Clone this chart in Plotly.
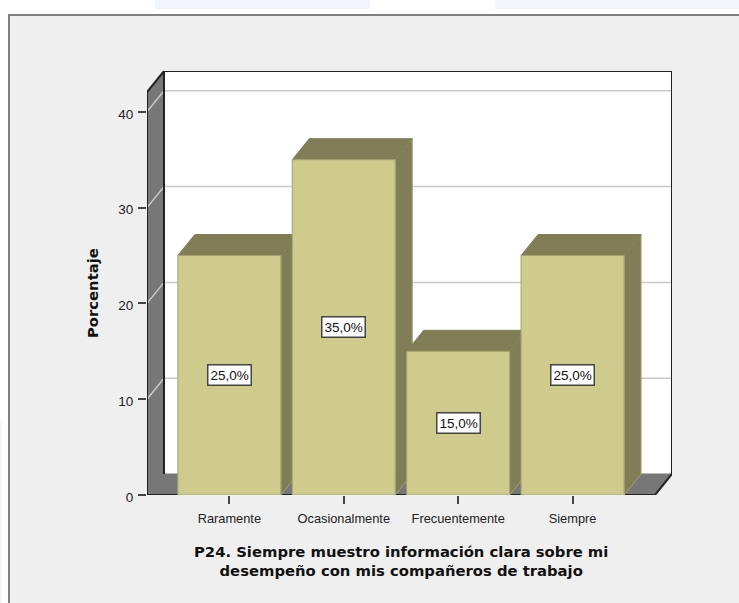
import plotly.graph_objects as go

# Survey results for item P24
categories = ["Raramente", "Ocasionalmente", "Frecuentemente", "Siempre"]
percentages = [25.0, 35.0, 15.0, 25.0]
value_labels = ["25,0%", "35,0%", "15,0%", "25,0%"]
y_ticks = [0, 10, 20, 30, 40]
x_title = "P24. Siempre muestro información clara sobre mi<br>desempeño con mis compañeros de trabajo"
y_title = "Porcentaje"

W, H = 739, 603
LEFT, RIGHT, TOP, BOTTOM = 147, 672, 71, 495   # plot area in pixels
CAT_PX = 114.4                                 # pixels per category
PCT_PX = 9.58                                  # pixels per percentage point

x_min = -0.72
x_max = x_min + (RIGHT - LEFT) / CAT_PX
y_max = (BOTTOM - TOP) / PCT_PX

# Oblique depth of the 3D box, in axis units
DX = 17 / CAT_PX
DY = 21 / PCT_PX
BAR_W = 103 / CAT_PX

FACE = "#cfcb8d"
SHADE = "#807d57"
EDGE = "#a5a274"
WALL = "#777777"
INK = "#111111"

front_right = x_max - DX


def poly(xs, ys, fill, line=None, width=1):
    """Closed filled polygon on the primary axes."""
    return go.Scatter(
        x=xs + xs[:1], y=ys + ys[:1], mode="lines", fill="toself", fillcolor=fill,
        line=dict(color=line or fill, width=width), hoverinfo="skip", showlegend=False,
    )


def segment(xs, ys, color, width):
    return go.Scatter(x=xs, y=ys, mode="lines", line=dict(color=color, width=width),
                      hoverinfo="skip", showlegend=False)


fig = go.Figure()

# Back wall, floor and side wall
fig.add_trace(poly([x_min + DX, x_max, x_max, x_min + DX], [DY, DY, y_max, y_max], "#ffffff"))
fig.add_trace(poly([x_min, x_min + DX, x_max, front_right], [0, DY, DY, 0], WALL))
fig.add_trace(poly([x_min, x_min + DX, x_min + DX, x_min],
                   [0, DY, y_max, y_max - DY], WALL))

# Gridlines run across the back wall and fold down the side wall
for tick in y_ticks[1:]:
    fig.add_trace(segment([x_min, x_min + DX, x_max],
                          [tick, tick + DY, tick + DY], "#c9c9c9", 1.5))

# Box outline
fig.add_trace(segment([x_min, x_min, x_min + DX, x_max, x_max, front_right],
                      [0, y_max - DY, y_max, y_max, DY, 0], "#222222", 2))
fig.add_trace(segment([x_min + DX, x_min + DX], [DY, y_max], "#222222", 2))
fig.add_trace(segment([x_min, front_right], [0, 0], "#222222", 2))

# Top and side faces of each bar
half = BAR_W / 2
for i, v in enumerate(percentages):
    fig.add_trace(poly([i + half, i + half + DX, i + half + DX, i + half],
                       [0, DY, v + DY, v], SHADE, EDGE))
    fig.add_trace(poly([i - half, i + half, i + half + DX, i - half + DX],
                       [v, v, v + DY, v + DY], SHADE, SHADE))

# Front faces sit on an overlaid copy of the axes so they cover neighbouring side faces
fig.add_trace(go.Bar(
    x=list(range(len(categories))), y=percentages, width=BAR_W,
    marker=dict(color=FACE, line=dict(color=EDGE, width=1)),
    xaxis="x2", yaxis="y2", showlegend=False, hoverinfo="skip",
))


def px_x(p):
    return (p - LEFT) / (RIGHT - LEFT)


def px_y(p):
    return (BOTTOM - p) / (BOTTOM - TOP)


def page_rect(x0, y0, x1, y1, fill, line=None, width=0):
    return dict(type="rect", xref="paper", yref="paper", layer="below",
                x0=px_x(x0), x1=px_x(x1), y0=px_y(y0), y1=px_y(y1),
                fillcolor=fill, line=dict(color=line or fill, width=width))


shapes = [
    page_rect(155, -2, 370, 9, "#f1f5fd"),
    page_rect(495, -2, 739, 9, "#f4f7fd"),
    page_rect(-2, 420, 2, 605, "#f1f5fd"),
    page_rect(9, 15, 745, 610, "#efefef", "#808080", 2),
]

annotations = [
    dict(x=i, y=v / 2, xref="x2", yref="y2", text=label, showarrow=False,
         font=dict(family="Liberation Sans", size=13.5, color=INK),
         bgcolor="#ffffff", bordercolor="#444444", borderwidth=1.5, borderpad=2)
    for i, (v, label) in enumerate(zip(percentages, value_labels))
]
annotations += [
    dict(x=px_x(401), y=px_y(561), xref="paper", yref="paper", showarrow=False,
         xanchor="center", yanchor="middle", align="center", text=x_title,
         font=dict(family="DejaVu Sans", size=14.8, color=INK, weight="bold")),
    dict(x=px_x(92), y=px_y(293), xref="paper", yref="paper", showarrow=False,
         xanchor="center", yanchor="middle", text=y_title, textangle=-90,
         font=dict(family="DejaVu Sans", size=14.8, color=INK, weight="bold")),
]

fig.update_layout(
    width=W, height=H, autosize=False,
    margin=dict(l=LEFT, r=W - RIGHT, t=TOP, b=H - BOTTOM, pad=0),
    paper_bgcolor="#ffffff", plot_bgcolor="rgba(0,0,0,0)",
    showlegend=False, shapes=shapes, annotations=annotations,
    xaxis=dict(
        range=[x_min, x_max], tickmode="array", tickvals=list(range(len(categories))),
        ticktext=categories, ticks="outside", ticklen=8, tickwidth=2, tickcolor="#444444",
        showgrid=False, zeroline=False, showline=False, ticklabelstandoff=4,
        tickfont=dict(family="Liberation Sans", size=12.8, color="#222222"),
    ),
    yaxis=dict(
        range=[0, y_max], tickmode="array", tickvals=y_ticks, ticks="outside", ticklen=8,
        tickwidth=2, tickcolor="#444444", showgrid=False, zeroline=False, showline=False,
        ticklabelstandoff=2, ticklabelshift=2,
        tickfont=dict(family="Liberation Sans", size=13.5, color="#222222"),
    ),
    xaxis2=dict(range=[x_min, x_max], overlaying="x", visible=False),
    yaxis2=dict(range=[0, y_max], overlaying="y", visible=False),
)

fig.write_html("out.html")
